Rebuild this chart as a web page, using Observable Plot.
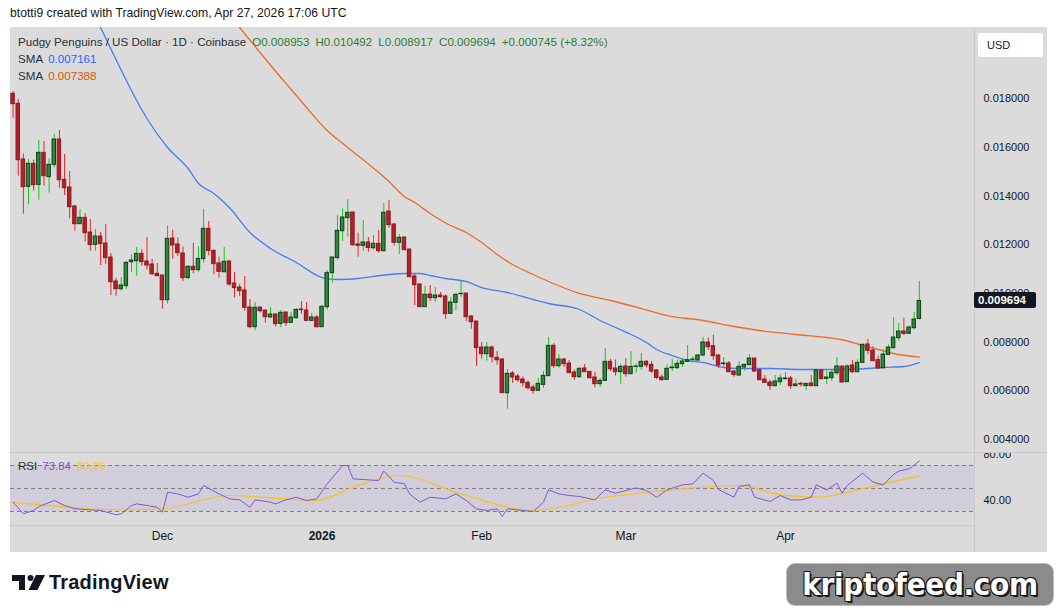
<!DOCTYPE html>
<html><head><meta charset="utf-8">
<script src="https://cdn.jsdelivr.net/npm/d3@7"></script>
<script src="https://cdn.jsdelivr.net/npm/@observablehq/plot@0.6"></script>
<style>
html,body{margin:0;padding:0}
body{width:1057px;height:613px;background:#fff;position:relative;overflow:hidden;font-family:"Liberation Sans",Arial,sans-serif;color:#131722}
.abs{position:absolute}
#hdr{left:10px;top:6px;font-size:12.2px;color:#131722;white-space:nowrap}
#frame{left:10px;top:27px;width:1037px;height:525px;background:#dbdbdb}
#price{left:10px;top:27px}
#rsi{left:10px;top:452px}
.leg{left:18px;font-size:11.6px;white-space:nowrap;color:#2a2e39}
.leg span{margin-right:6px}
.g{color:#2f7d32}
#usd{left:978px;top:33px;width:65px;height:24px;background:#fff;border-radius:3px;font-size:11px;line-height:24px;text-indent:9px;color:#131722}
#last{left:974px;width:62px;height:16px;background:#131722;color:#fff;font-size:11.5px;font-weight:bold;line-height:16px;text-indent:4px;border-radius:2px}
.sep{background:#c9cad0}
#tvtext{left:49px;top:571px;font-size:20px;font-weight:bold;color:#131722;letter-spacing:0.2px}
#kf{left:786px;top:563px;width:266px;height:41px;background:#8b8b8b;border:1.5px solid #bdbdbd;border-radius:9px;color:#fff;font-family:"Liberation Sans Narrow","DejaVu Sans Condensed",sans-serif;font-weight:bold;font-size:31px;line-height:41px;text-align:center;letter-spacing:-0.3px;text-shadow:2px 2px 0 #1a1a1a,-1px -1px 0 #1a1a1a,1px -1px 0 #1a1a1a,-1px 1px 0 #1a1a1a}
</style></head><body>
<div id="hdr" class="abs">btotti9 created with TradingView.com, Apr 27, 2026 17:06 UTC</div>
<div id="frame" class="abs"></div>
<div id="price" class="abs"></div>
<div id="rsi" class="abs"></div>
<div class="abs sep" style="left:974px;top:27px;width:1px;height:525px"></div>
<div class="abs sep" style="left:10px;top:452px;width:1037px;height:1px"></div>
<div class="abs sep" style="left:10px;top:525px;width:964px;height:1px"></div>
<div id="usd" class="abs">USD</div>
<div class="abs leg" style="top:35px"><span>Pudgy Penguins / US Dollar · 1D · Coinbase</span><span class="g">O0.008953</span><span class="g">H0.010492</span><span class="g">L0.008917</span><span class="g">C0.009694</span><span class="g">+0.000745 (+8.32%)</span></div>
<div class="abs leg" style="top:52px"><span style="margin-right:5px">SMA</span><span style="color:#2962ff">0.007161</span></div>
<div class="abs leg" style="top:69px"><span style="margin-right:5px">SMA</span><span style="color:#e65100">0.007388</span></div>
<div class="abs leg" style="top:460px;font-size:11.5px"><span style="margin-right:5px">RSI</span><span style="color:#7e57c2">73.84</span><span style="color:#f7c325">60.96</span></div>
<div id="last" class="abs">0.009694</div>
<svg class="abs" style="left:12px;top:575px" width="34" height="16" viewBox="0 0 34 16">
  <path d="M0 0H13V15H7V6H0Z" fill="#131722"/>
  <circle cx="18.5" cy="3" r="3" fill="#131722"/>
  <path d="M24 0H33L25.5 15H16.5Z" fill="#131722"/>
</svg>
<div id="tvtext" class="abs">TradingView</div>
<div id="kf" class="abs">kriptofeed.com</div>
<script>
// ---- data ----
const startDate = "2025-11-02"; // first daily candle
const open = [
0.018207,0.017796,0.015508,0.014384,0.015330,0.014466,0.015782,0.014782,0.015288,0.016330,
0.014672,0.014357,0.013576,0.012850,0.013110,0.012507,0.012000,0.012343,0.012055,0.011480,
0.010493,0.010178,0.010302,0.011288,0.011329,0.011631,0.011315,0.011192,0.010809,0.010740,
0.009726,0.012261,0.012014,0.011644,0.010640,0.011097,0.010960,0.011412,0.012658,0.011754,
0.011234,0.010877,0.011316,0.010412,0.010247,0.010124,0.009425,0.008617,0.009425,0.009302,
0.009014,0.009138,0.008754,0.009220,0.008795,0.008987,0.009343,0.009302,0.008877,0.009014,
0.008617,0.009439,0.010836,0.011453,0.012563,0.013097,0.013330,0.012015,0.011960,0.012100,
0.011863,0.012042,0.011740,0.013370,0.012836,0.012083,0.012302,0.011809,0.010699,0.010370,
0.009439,0.009959,0.009808,0.009918,0.009877,0.009165,0.009617,0.009973,0.010000,0.009055,
0.008849,0.007781,0.007507,0.007781,0.007356,0.007288,0.005904,0.006712,0.006589,0.006466,
0.006329,0.006137,0.006000,0.006246,0.006603,0.007849,0.007014,0.007288,0.007123,0.006753,
0.006562,0.006918,0.006781,0.006548,0.006274,0.006411,0.007192,0.006918,0.006767,0.007000,
0.006685,0.006986,0.006986,0.007192,0.007068,0.006836,0.006548,0.006452,0.006931,0.006931,
0.007096,0.007192,0.007274,0.007247,0.007452,0.007986,0.007836,0.007452,0.007096,0.007123,
0.006794,0.006630,0.006959,0.007055,0.007329,0.006849,0.006466,0.006342,0.006192,0.006356,
0.006479,0.006507,0.006192,0.006288,0.006192,0.006301,0.006192,0.006836,0.006493,0.006520,
0.006726,0.007000,0.006356,0.007041,0.006767,0.007151,0.007904,0.007658,0.007260,0.006931,
0.007479,0.007753,0.008164,0.008438,0.008343,0.008575,0.008953];
const high = [
0.018302,0.017974,0.015741,0.015508,0.015480,0.016289,0.016247,0.015535,0.016535,0.016700,
0.015713,0.015014,0.013617,0.013453,0.013288,0.013042,0.012631,0.012507,0.012836,0.011644,
0.010630,0.010658,0.011315,0.011603,0.011891,0.011809,0.012302,0.011398,0.011233,0.010740,
0.012781,0.012603,0.012288,0.011905,0.011151,0.012069,0.011932,0.013453,0.012960,0.011795,
0.011494,0.011891,0.011316,0.010864,0.010371,0.010699,0.009754,0.009617,0.009425,0.009302,
0.009425,0.009165,0.009302,0.009220,0.009220,0.009357,0.009672,0.009631,0.009179,0.009097,
0.009508,0.010946,0.011480,0.013207,0.013481,0.013864,0.013330,0.012480,0.013001,0.012300,
0.012384,0.012590,0.013699,0.013823,0.012877,0.012425,0.012302,0.011809,0.010781,0.010398,
0.010288,0.010329,0.010247,0.010041,0.009945,0.009836,0.010000,0.010521,0.010000,0.009082,
0.008849,0.007986,0.007986,0.007836,0.007616,0.007315,0.006877,0.006794,0.006671,0.006575,
0.006397,0.006233,0.006507,0.006794,0.008192,0.007945,0.007493,0.007329,0.007247,0.006849,
0.006959,0.007082,0.006794,0.006767,0.006507,0.007740,0.007301,0.007274,0.007096,0.007329,
0.007616,0.007110,0.007534,0.007247,0.007205,0.006877,0.006657,0.007068,0.007301,0.007260,
0.007329,0.007863,0.007411,0.007479,0.008192,0.008164,0.008288,0.007479,0.007370,0.007205,
0.006836,0.007205,0.007096,0.007493,0.007329,0.006904,0.006630,0.006438,0.006630,0.006657,
0.006753,0.006589,0.006466,0.006342,0.006315,0.006630,0.006890,0.006863,0.006808,0.006877,
0.007370,0.007000,0.007068,0.007247,0.007274,0.007932,0.008110,0.007822,0.007425,0.007699,
0.007890,0.009014,0.008767,0.008986,0.008685,0.009219,0.010492];
const low = [
0.017206,0.014823,0.013261,0.013644,0.014206,0.013836,0.014412,0.014124,0.015151,0.014329,
0.014028,0.013069,0.012562,0.012850,0.012110,0.011740,0.011740,0.011151,0.011192,0.009918,
0.009891,0.010096,0.010165,0.010877,0.010713,0.011124,0.010973,0.010740,0.010699,0.009356,
0.009562,0.011411,0.011521,0.010493,0.010562,0.010809,0.010877,0.011247,0.011549,0.010768,
0.010631,0.010836,0.010302,0.009823,0.009877,0.009275,0.008549,0.008466,0.009206,0.008781,
0.008987,0.008617,0.008590,0.008644,0.008768,0.008946,0.009151,0.008850,0.008850,0.008576,
0.008617,0.009329,0.010425,0.011384,0.012138,0.012316,0.011946,0.011494,0.011727,0.011700,
0.011768,0.011658,0.011699,0.012685,0.011946,0.011603,0.011781,0.010672,0.009507,0.009439,
0.009439,0.009671,0.009644,0.009808,0.008932,0.009137,0.009274,0.009836,0.008849,0.008534,
0.007000,0.007301,0.007219,0.007137,0.007055,0.005904,0.005246,0.006315,0.006356,0.006151,
0.006027,0.005863,0.005972,0.006109,0.006603,0.006931,0.006931,0.006959,0.006726,0.006438,
0.006520,0.006767,0.006479,0.006123,0.006137,0.006411,0.006794,0.006603,0.006274,0.006562,
0.006657,0.006726,0.006849,0.006945,0.006726,0.006466,0.006397,0.006452,0.006794,0.006877,
0.006959,0.007178,0.007137,0.007219,0.007425,0.007658,0.007260,0.006931,0.006959,0.006753,
0.006562,0.006589,0.006808,0.007041,0.006767,0.006438,0.006329,0.006014,0.006164,0.006219,
0.006452,0.006068,0.006192,0.006151,0.006014,0.006192,0.006192,0.006479,0.006260,0.006383,
0.006630,0.006342,0.006356,0.006712,0.006767,0.007123,0.007479,0.007205,0.006890,0.006904,
0.007452,0.007726,0.008041,0.008274,0.008315,0.008493,0.008917];
const close = [
0.017782,0.015480,0.014371,0.015330,0.014453,0.015782,0.014823,0.015288,0.016330,0.014658,
0.014329,0.013549,0.012850,0.013110,0.012480,0.011987,0.012343,0.012028,0.011452,0.010466,
0.010178,0.010329,0.011261,0.011357,0.011631,0.011288,0.011151,0.010795,0.010713,0.009726,
0.012247,0.011973,0.011658,0.010630,0.011097,0.010960,0.011425,0.012658,0.011754,0.011206,
0.010891,0.011302,0.010371,0.010220,0.010097,0.009412,0.008617,0.009412,0.009275,0.009028,
0.009138,0.008740,0.009206,0.008781,0.009014,0.009329,0.009316,0.008877,0.009014,0.008617,
0.009453,0.010836,0.011480,0.012576,0.013124,0.013316,0.011987,0.011960,0.012097,0.011870,
0.012042,0.011740,0.013316,0.012809,0.012083,0.012288,0.011781,0.010672,0.010343,0.009439,
0.009945,0.009808,0.009918,0.009850,0.009151,0.009630,0.009945,0.009987,0.009028,0.008822,
0.007753,0.007507,0.007781,0.007384,0.007260,0.005904,0.006699,0.006548,0.006438,0.006315,
0.006109,0.006000,0.006288,0.006616,0.007849,0.007014,0.007288,0.007096,0.006726,0.006562,
0.006904,0.006767,0.006520,0.006274,0.006411,0.007192,0.006890,0.006767,0.006986,0.006685,
0.006986,0.007000,0.007192,0.007041,0.006794,0.006534,0.006438,0.006904,0.006959,0.007110,
0.007205,0.007260,0.007288,0.007452,0.007986,0.007795,0.007425,0.007041,0.007123,0.006767,
0.006650,0.006986,0.007068,0.007329,0.006794,0.006438,0.006329,0.006192,0.006383,0.006507,
0.006507,0.006192,0.006260,0.006260,0.006288,0.006192,0.006836,0.006479,0.006548,0.006740,
0.007000,0.006342,0.007000,0.006767,0.007151,0.007890,0.007644,0.007219,0.006918,0.007493,
0.007781,0.008192,0.008438,0.008343,0.008603,0.008932,0.009694];
// SMA lines (candle index -> value)
const smaFastIdx = [17,22,24,26,30,34,36,39,42,46,50,55,60,63,67,73,76,79,81,84,88,91,96,101,104,110,114,120,123,125,128,131,134,138,141,147,153,160,166,169,173,176];
const smaFastVal = [0.020933,0.018755,0.017933,0.017193,0.016001,0.015138,0.014522,0.014111,0.013535,0.012508,0.011850,0.011275,0.010658,0.010576,0.010617,0.010782,0.010823,0.010823,0.010740,0.010617,0.010494,0.010247,0.010042,0.009754,0.009590,0.009343,0.008891,0.008316,0.007987,0.007699,0.007452,0.007247,0.007165,0.006959,0.006918,0.006918,0.006877,0.006877,0.006918,0.006959,0.007000,0.007161];
const smaSlowIdx = [44,52,54,56,61,65,73,76,78,81,84,88,91,94,97,101,104,110,116,122,127,134,139,145,152,158,161,165,168,171,176];
const smaSlowVal = [0.020933,0.018878,0.018385,0.017892,0.016700,0.016001,0.014604,0.013987,0.013741,0.013289,0.012900,0.012508,0.012097,0.011604,0.011193,0.010782,0.010494,0.010001,0.009713,0.009384,0.009096,0.008891,0.008685,0.008480,0.008316,0.008192,0.008100,0.007863,0.007699,0.007535,0.007388];
// RSI and its moving average (candle index -> value)
const rsiIdx = [0,2,4,5,8,10,12,15,17,20,21,23,24,28,29,30,32,34,36,37,40,42,44,46,47,50,51,53,55,57,59,61,64,65,66,69,71,72,74,76,77,79,81,84,86,88,90,92,94,95,96,98,101,103,104,106,108,110,113,115,117,119,121,123,125,127,130,132,134,136,137,140,141,143,144,147,149,151,153,155,156,158,160,161,162,165,167,169,171,172,174,176];
const rsiVal = [38.1,28.0,30.9,34.3,39.5,35.2,32.3,31.4,30.9,27.1,28.0,35.2,36.6,33.7,29.4,46.8,45.3,42.4,45.3,52.6,45.3,41.0,40.1,33.7,40.1,38.1,36.6,40.1,42.4,39.5,41.0,54.0,70.0,70.0,58.4,57.5,56.9,65.1,55.5,54.0,45.3,38.1,42.4,41.0,45.3,39.5,32.3,30.9,32.3,25.6,32.3,31.4,30.0,38.1,48.8,45.3,43.9,43.0,40.1,48.8,45.9,48.2,50.5,48.2,42.4,48.8,53.2,54.0,63.3,56.9,49.1,42.4,51.7,53.2,42.4,38.7,43.9,40.1,40.1,42.4,53.2,48.8,54.6,45.9,52.6,63.3,55.5,53.2,62.2,65.1,67.1,73.84];
const rsiMaIdx = [0,11,21,29,42,50,59,66,75,87,101,115,128,141,149,156,168,176];
const rsiMaVal = [38.1,33.7,31.4,32.3,43.9,41.9,39.5,51.1,61.3,45.3,30.9,42.4,48.8,52.6,44.5,42.4,53.2,60.96];
const rsiLevels = [30, 50, 70];
const rsiBand = [[30, 70]];
const priceTicks = [0.004,0.006,0.008,0.010,0.012,0.014,0.016,0.018];
const rsiTicks = [40, 80];
const monthTicks = ["2025-12-01","2026-02-01","2026-03-01","2026-04-01"];
const yearTicks = ["2026-01-01"];
const lastClose = 0.009694;

// ---- build ----
const t0 = new Date(startDate);
const dates = open.map((_, i) => d3.utcDay.offset(t0, i));
const candles = open.map((o, i) => ({date: dates[i], open: o, high: high[i], low: low[i], close: close[i], up: close[i] >= o}));
const smaFast = smaFastIdx.map((k, j) => ({date: dates[k], value: smaFastVal[j]}));
const smaSlow = smaSlowIdx.map((k, j) => ({date: dates[k], value: smaSlowVal[j]}));
const rsi = rsiIdx.map((k, j) => ({date: dates[k], value: rsiVal[j]}));
const rsiMa = rsiMaIdx.map((k, j) => ({date: dates[k], value: rsiMaVal[j]}));

const xDomain = [new Date(Date.UTC(2025,10,1,12)), new Date(Date.UTC(2026,4,7,17))];
const font = {background: "transparent", fontFamily: "'Liberation Sans', Arial, sans-serif", fontSize: "11px", color: "#131722", overflow: "hidden"};

const pricePlot = Plot.plot({
  width: 1037, height: 425, marginLeft: 0, marginRight: 73, marginTop: 0, marginBottom: 0,
  style: font,
  x: {type: "utc", domain: xDomain, axis: null},
  y: {domain: [0.003466, 0.020933], axis: null},
  marks: [
    Plot.axisY(priceTicks, {anchor: "right", label: null, tickSize: 0, tickPadding: 9, tickFormat: d3.format(".6f"), fill: "#131722"}),
    Plot.line(smaSlow, {x: "date", y: "value", stroke: "#f06a28", strokeWidth: 1.3, curve: "monotone-x", clip: true}),
    Plot.line(smaFast, {x: "date", y: "value", stroke: "#4a7cf6", strokeWidth: 1.3, curve: "monotone-x", clip: true}),
    Plot.ruleX(candles, {x: "date", y1: "low", y2: "high", stroke: d => d.up ? "#17c617" : "#f02323", strokeWidth: 1}),
    Plot.rect(candles, {
      x1: d => d3.utcHour.offset(d.date, -8), x2: d => d3.utcHour.offset(d.date, 8),
      y1: "open", y2: "close",
      fill: d => d.up ? "#2c8a3c" : "#b5202a",
      stroke: d => d.up ? "#0e3f14" : "#8a1a1e", strokeWidth: 1
    })
  ]
});
document.getElementById("price").appendChild(pricePlot);

const fmtMonth = d3.utcFormat("%b");
const rsiPlot = Plot.plot({
  width: 1037, height: 100, marginLeft: 0, marginRight: 73, marginTop: 0, marginBottom: 27,
  style: font,
  x: {type: "utc", domain: xDomain, axis: null},
  y: {domain: [17.8, 81.3], axis: null},
  marks: [
    Plot.rect(rsiBand, {y1: d => d[0], y2: d => d[1], fill: "#d1cdda"}),
    Plot.ruleY(rsiLevels, {stroke: "#7d7d86", strokeDasharray: "4,3", strokeWidth: 1}),
    Plot.line(rsiMa, {x: "date", y: "value", stroke: "#f3c41e", strokeWidth: 1.2, curve: "monotone-x"}),
    Plot.line(rsi, {x: "date", y: "value", stroke: "#7e5bd0", strokeWidth: 1}),
    Plot.axisY(rsiTicks, {anchor: "right", label: null, tickSize: 0, tickPadding: 9, tickFormat: d3.format(".2f"), fill: "#131722"}),
    Plot.axisX(monthTicks.map(s => new Date(s)), {anchor: "bottom", label: null, tickSize: 0, tickPadding: 6, fontSize: 12, tickFormat: fmtMonth, fill: "#131722"}),
    Plot.axisX(yearTicks.map(s => new Date(s)), {anchor: "bottom", label: null, tickSize: 0, tickPadding: 6, fontSize: 12, fontWeight: "bold", tickFormat: d3.utcFormat("%Y"), fill: "#131722"})
  ]
});
document.getElementById("rsi").appendChild(rsiPlot);

// last price label placed with the price scale
const yS = pricePlot.scale("y");
const lastEl = document.getElementById("last");
lastEl.style.top = (27 + yS.apply(lastClose) - 8) + "px";
</script>
</body></html>
